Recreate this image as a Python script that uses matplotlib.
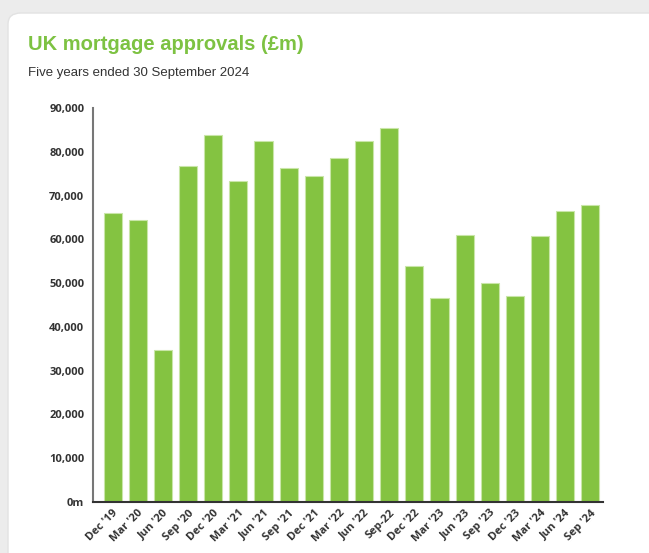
import matplotlib
matplotlib.use("Agg")
import matplotlib.pyplot as plt
from matplotlib.patches import FancyBboxPatch
from matplotlib.ticker import FuncFormatter

quarters = ["Dec '19", "Mar '20", "Jun '20", "Sep '20", "Dec '20", "Mar '21",
            "Jun '21", "Sep '21", "Dec '21", "Mar '22", "Jun '22", "Sep-22",
            "Dec '22", "Mar '23", "Jun '23", "Sep '23", "Dec '23", "Mar '24",
            "Jun '24", "Sep '24"]
approvals = [66100, 64400, 34700, 76800, 83800, 73300, 82500, 76200, 74500,
             78500, 82500, 85400, 54000, 46600, 61000, 50100, 47100, 60700,
             66500, 67900]

green = "#84c341"
title_green = "#7dc242"

fig = plt.figure(figsize=(6.49, 5.53), dpi=100)
fig.patch.set_facecolor("#ececec")

# white card with rounded corner
card = FancyBboxPatch((8 / 649, -0.1), 1.2, 1.0 + 0.1 - 13 / 553,
                      boxstyle="round,pad=0,rounding_size=0.02",
                      transform=fig.transFigure, facecolor="white",
                      edgecolor="#e2e2e2", linewidth=1, zorder=-5)
fig.patches.append(card)

fig.text(28 / 649, 1 - 44 / 553, "UK mortgage approvals (£m)",
         fontsize=14.5, fontweight="bold", color=title_green, va="center",
         family=["Liberation Sans", "DejaVu Sans"], zorder=5)
fig.text(28 / 649, 1 - 73 / 553, "Five years ended 30 September 2024",
         fontsize=9.5, color="#333333", va="center",
         family=["Liberation Sans", "DejaVu Sans"], zorder=5)

ax = fig.add_axes([92.7 / 649, 1 - 502 / 553, (603 - 92.7) / 649, (502 - 108) / 553])
ax.set_zorder(5)
ax.set_facecolor("none")
ax.bar(range(len(quarters)), approvals, width=0.72, color=green,
       edgecolor="#c9e6a8", linewidth=0.8)

ax.set_xlim(-0.79, 19.5)
ax.set_ylim(0, 90000)
ax.set_yticks(range(0, 90001, 10000))
ax.yaxis.set_major_formatter(FuncFormatter(lambda v, p: "0m" if v == 0 else f"{int(v):,}"))
ax.set_xticks(range(len(quarters)))
ax.set_xticklabels(quarters, rotation=45, ha="right", rotation_mode="anchor")

for lab in ax.get_xticklabels() + ax.get_yticklabels():
    lab.set_fontweight("bold")
    lab.set_fontsize(8)
    lab.set_color("#333333")
    lab.set_family(["Open Sans", "DejaVu Sans"])

ax.tick_params(axis="both", length=0)
ax.tick_params(axis="y", pad=6)
ax.tick_params(axis="x", pad=4)

for s in ["top", "right"]:
    ax.spines[s].set_visible(False)
ax.spines["left"].set_color("#777777")
ax.spines["left"].set_linewidth(1.5)
ax.spines["bottom"].set_color("#333333")
ax.spines["bottom"].set_linewidth(1.5)

fig.savefig("out.png", dpi=100)
